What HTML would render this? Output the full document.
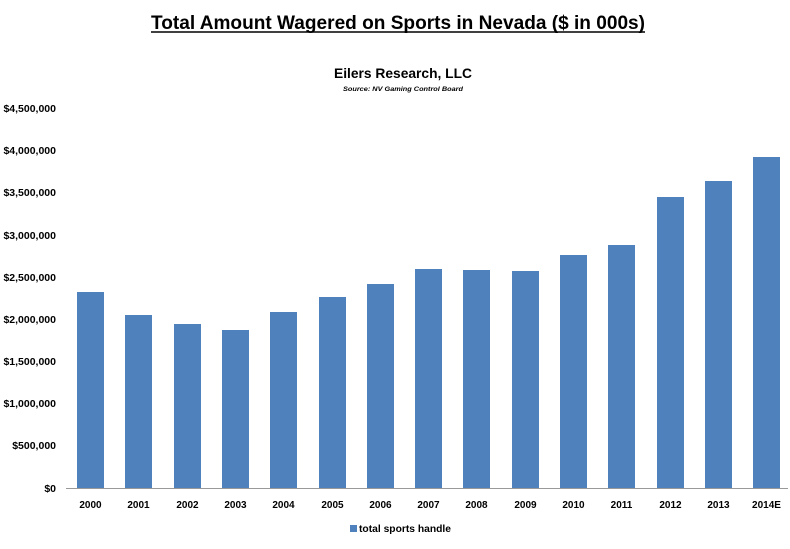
<!DOCTYPE html>
<html><head><style>
body{margin:0;background:#fff;width:790px;height:544px;overflow:hidden;font-family:"Liberation Sans",sans-serif;}
svg text{font-family:"Liberation Sans",sans-serif;}
</style></head><body>
<svg width="790" height="544" xmlns="http://www.w3.org/2000/svg">
<text x="398" y="29" text-anchor="middle" font-size="19" font-weight="bold" fill="#000" textLength="494" lengthAdjust="spacingAndGlyphs">Total Amount Wagered on Sports in Nevada ($ in 000s)</text>
<line x1="151" y1="32" x2="645" y2="32" stroke="#000" stroke-width="1.5"/>
<text x="403" y="78" text-anchor="middle" font-size="14" font-weight="bold" textLength="138" lengthAdjust="spacingAndGlyphs">Eilers Research, LLC</text>
<text x="403" y="91" text-anchor="middle" font-size="6" font-weight="bold" font-style="italic" textLength="120" lengthAdjust="spacingAndGlyphs">Source: NV Gaming Control Board</text>
<g font-size="10.5" font-weight="bold" text-anchor="end" fill="#000">
<text x="56" y="112">$4,500,000</text>
<text x="56" y="154">$4,000,000</text>
<text x="56" y="196">$3,500,000</text>
<text x="56" y="239">$3,000,000</text>
<text x="56" y="281">$2,500,000</text>
<text x="56" y="323">$2,000,000</text>
<text x="56" y="365">$1,500,000</text>
<text x="56" y="407">$1,000,000</text>
<text x="56" y="449">$500,000</text>
<text x="56" y="492">$0</text>
</g>
<g fill="#4f81bd">
<rect x="77" y="292" width="27" height="196"/>
<rect x="125" y="315" width="27" height="173"/>
<rect x="174" y="324" width="27" height="164"/>
<rect x="222" y="330" width="27" height="158"/>
<rect x="270" y="312" width="27" height="176"/>
<rect x="319" y="297" width="27" height="191"/>
<rect x="367" y="284" width="27" height="204"/>
<rect x="415" y="269" width="27" height="219"/>
<rect x="463" y="270" width="27" height="218"/>
<rect x="512" y="271" width="27" height="217"/>
<rect x="560" y="255" width="27" height="233"/>
<rect x="608" y="245" width="27" height="243"/>
<rect x="657" y="197" width="27" height="291"/>
<rect x="705" y="181" width="27" height="307"/>
<rect x="753" y="157" width="27" height="331"/>
</g>
<line x1="66" y1="488.5" x2="788" y2="488.5" stroke="#999" stroke-width="1"/>
<g font-size="10" font-weight="bold" text-anchor="middle">
<text x="90.5" y="508">2000</text>
<text x="138.5" y="508">2001</text>
<text x="187.5" y="508">2002</text>
<text x="235.5" y="508">2003</text>
<text x="283.5" y="508">2004</text>
<text x="332.5" y="508">2005</text>
<text x="380.5" y="508">2006</text>
<text x="428.5" y="508">2007</text>
<text x="476.5" y="508">2008</text>
<text x="525.5" y="508">2009</text>
<text x="573.5" y="508">2010</text>
<text x="621.5" y="508">2011</text>
<text x="670.5" y="508">2012</text>
<text x="718.5" y="508">2013</text>
<text x="766.5" y="508">2014E</text>
</g>
<rect x="350" y="525" width="7" height="7" fill="#4f81bd"/>
<text x="359" y="532" font-size="10" font-weight="bold" textLength="92" lengthAdjust="spacingAndGlyphs">total sports handle</text>
</svg>
</body></html>
